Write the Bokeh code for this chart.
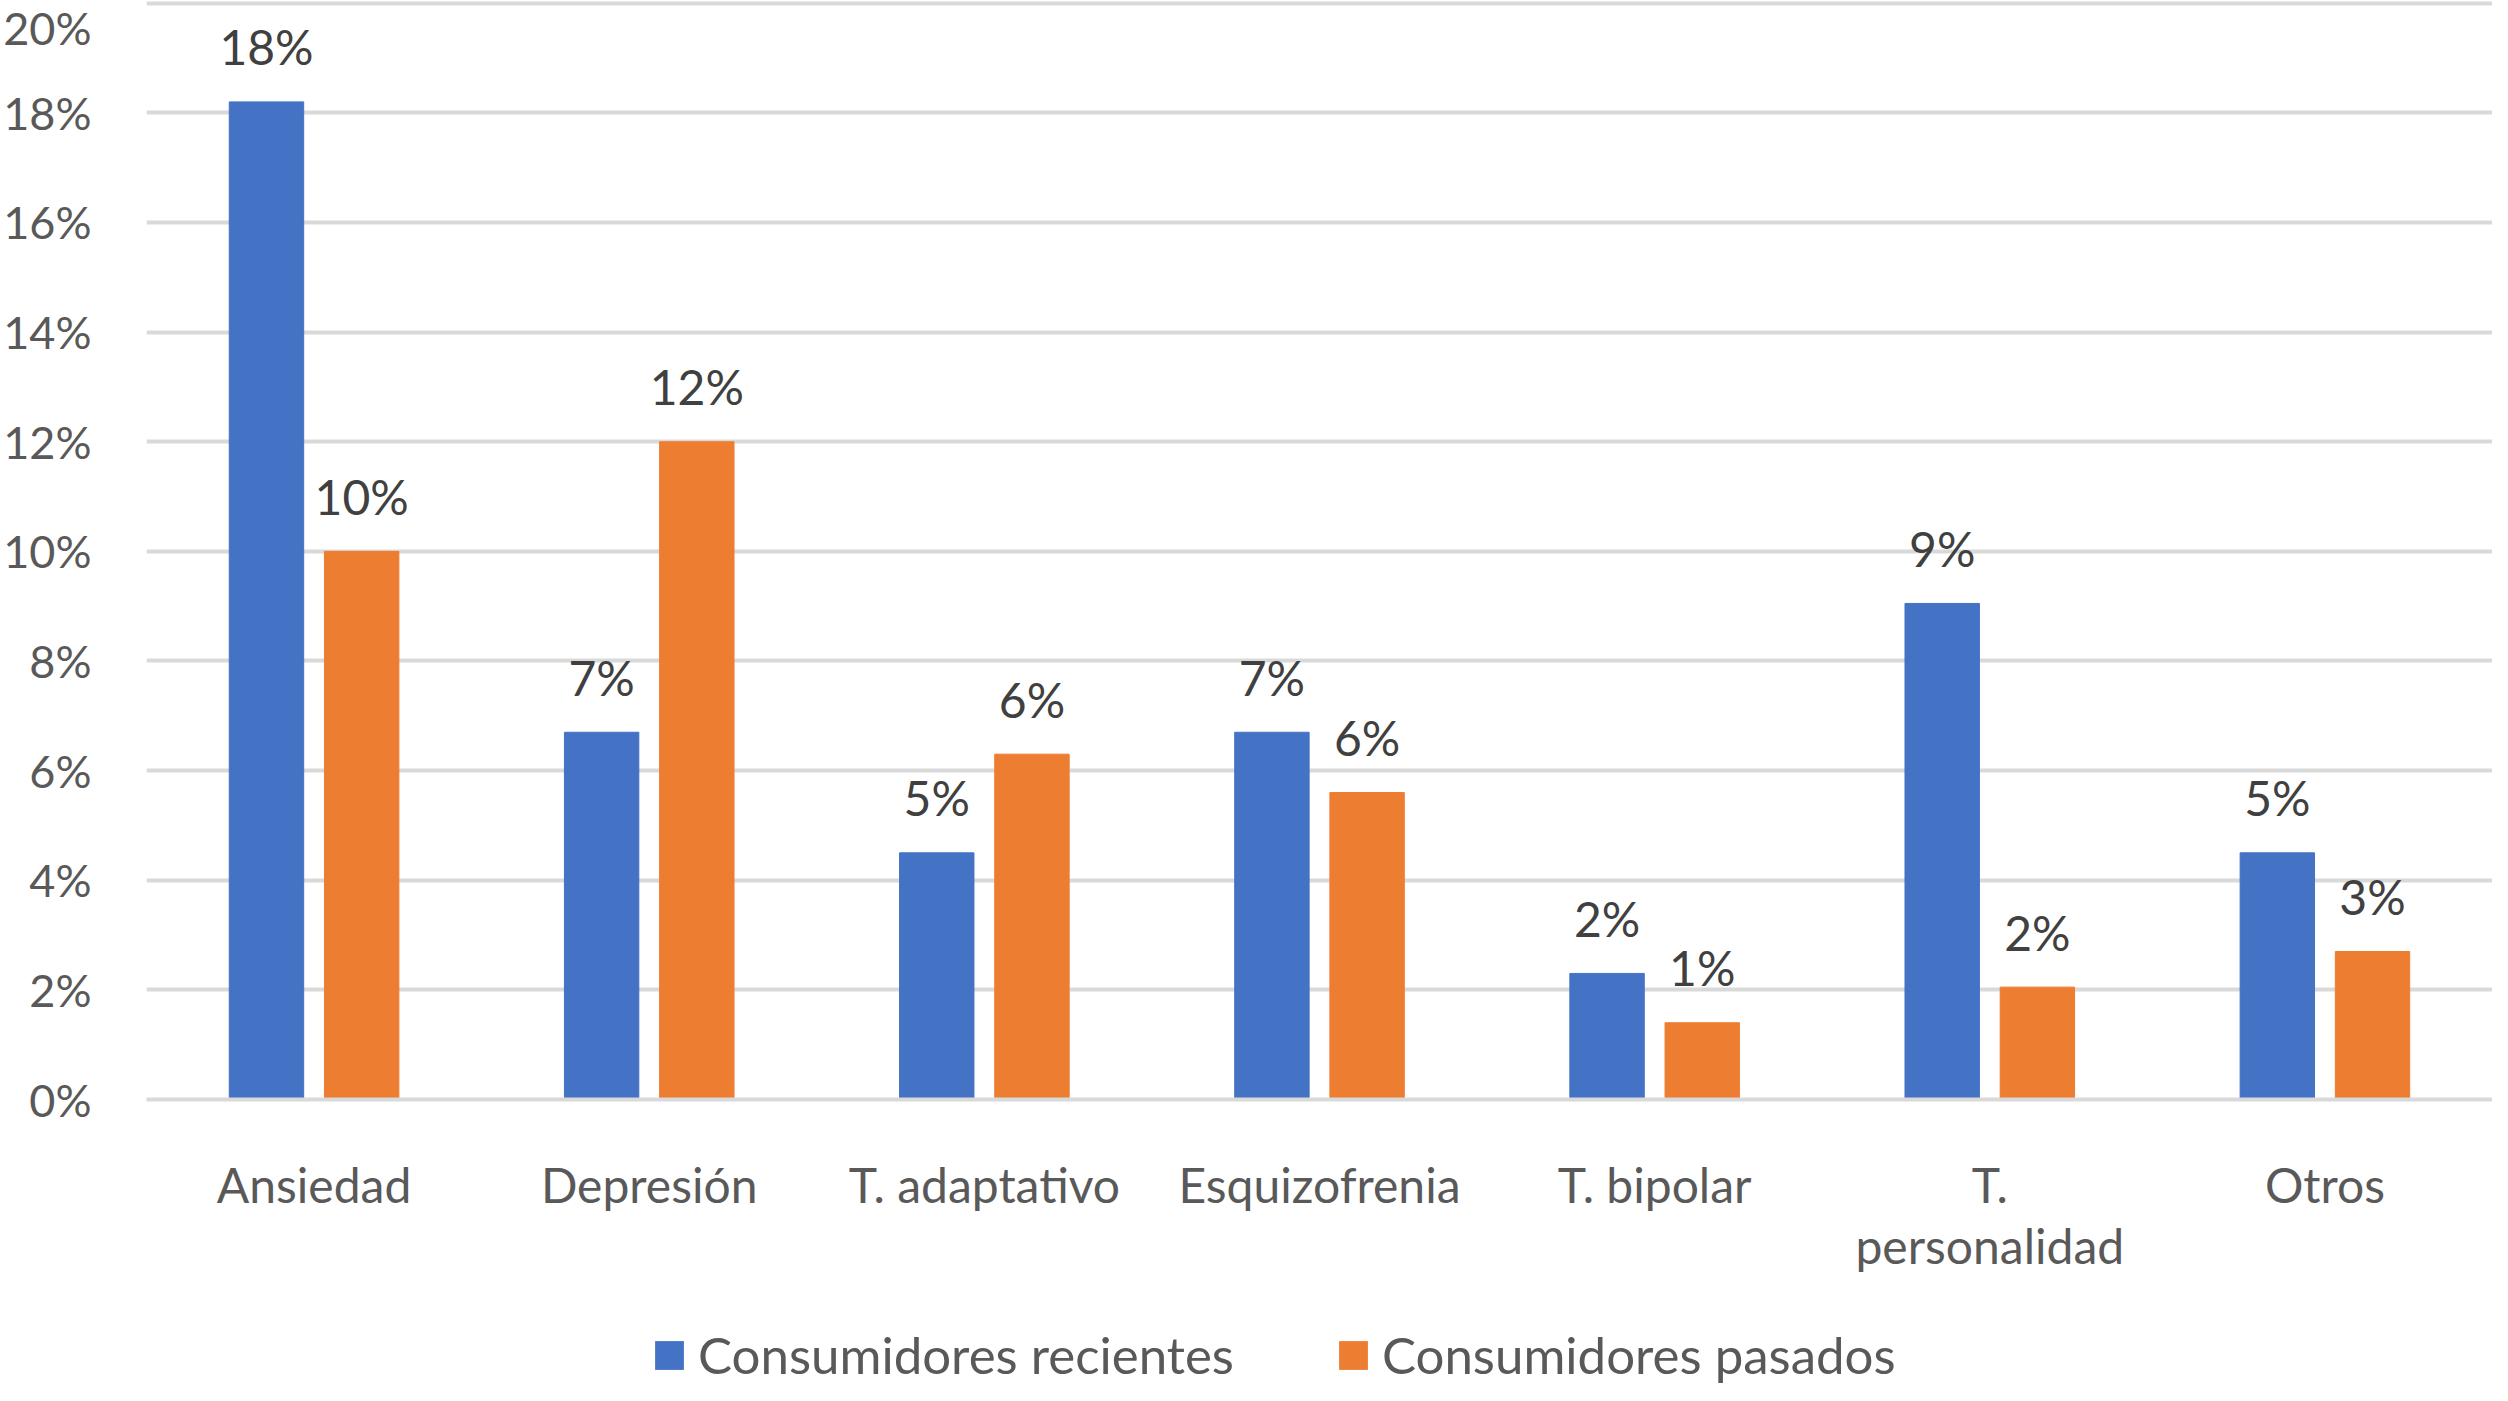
from bokeh.plotting import figure
from bokeh.layouts import column
from bokeh.models import ColumnDataSource, FactorRange, FixedTicker, Legend, LegendItem, Range1d
from bokeh.transform import dodge
from bokeh.core.properties import value
from bokeh.embed import file_html
from bokeh.resources import INLINE

# data (percent)
categories = ["Ansiedad", "Depresión", "T. adaptativo", "Esquizofrenia",
              "T. bipolar", "T.\npersonalidad", "Otros"]
recientes = [18.2, 6.7, 4.5, 6.7, 2.3, 9.05, 4.5]
pasados = [10.0, 12.0, 6.3, 5.6, 1.4, 2.05, 2.7]
recientes_labels = ["18%", "7%", "5%", "7%", "2%", "9%", "5%"]
pasados_labels = ["10%", "12%", "6%", "6%", "1%", "2%", "3%"]
grid_ticks = [0, 2, 4, 6, 8, 10, 12, 14, 16, 18, 20]
series_names = ["Consumidores recientes", "Consumidores pasados"]

BLUE = "#4472C4"
ORANGE = "#ED7D31"
FONT = "Lato"
W = 2492

src = ColumnDataSource(dict(cat=categories, rec=recientes, pas=pasados,
                            rec_lbl=recientes_labels, pas_lbl=pasados_labels))

p = figure(x_range=FactorRange(*categories, range_padding=0), y_range=(0, 20.05),
           width=W, height=1279, output_backend="svg", toolbar_location=None,
           min_border_left=139, min_border_right=0, min_border_top=0, min_border_bottom=180)
p.outline_line_color = None
p.background_fill_color = "white"
p.border_fill_color = "white"

p.vbar(x=dodge("cat", -0.142, range=p.x_range), top="rec", width=0.222,
       source=src, color=BLUE)
p.vbar(x=dodge("cat", 0.142, range=p.x_range), top="pas", width=0.222,
       source=src, color=ORANGE)

for off, col, lbl in [(-0.142, "rec", "rec_lbl"), (0.142, "pas", "pas_lbl")]:
    p.text(x=dodge("cat", off, range=p.x_range), y=col, text=lbl, source=src,
           y_offset=-55, text_align="center", text_baseline="alphabetic",
           text_font=value(FONT), text_font_size="48px", text_color="#404040")

# y axis: the top label sits a little below its gridline, as in the cropped original
label_ticks = grid_ticks[:-1] + [19.65]
p.yaxis.ticker = FixedTicker(ticks=label_ticks)
p.yaxis.major_label_overrides = {t: "%d%%" % round(t) for t in label_ticks}
p.ygrid.ticker = FixedTicker(ticks=grid_ticks)
p.yaxis.axis_line_color = None
p.yaxis.major_tick_line_color = None
p.yaxis.minor_tick_line_color = None
p.yaxis.major_label_standoff = 49
p.yaxis.major_label_text_font = FONT
p.yaxis.major_label_text_font_size = "45px"
p.yaxis.major_label_text_color = "#595959"

p.xaxis.axis_line_color = "#d9d9d9"
p.xaxis.axis_line_width = 4
p.xaxis.major_tick_line_color = None
p.xaxis.major_label_standoff = 50
p.xaxis.major_label_text_font = FONT
p.xaxis.major_label_text_font_size = "48px"
p.xaxis.major_label_text_color = "#595959"
p.xaxis.major_label_text_line_height = 1.08

p.xgrid.grid_line_color = None
p.ygrid.grid_line_color = "#d9d9d9"
p.ygrid.grid_line_width = 4

# legend strip under the chart; the key renderers are flat (zero-height) bars
leg = figure(width=W, height=106, output_backend="svg", toolbar_location=None,
             x_range=Range1d(0, 1), y_range=Range1d(0, 1), min_border=0)
leg.axis.visible = False
leg.grid.visible = False
leg.outline_line_color = None
leg.border_fill_color = "white"
key_src = ColumnDataSource(dict(x=[0.5], top=[0.0]))
k1 = leg.vbar(x="x", top="top", width=0.01, source=key_src,
              fill_color=BLUE, line_color=None)
k2 = leg.vbar(x="x", top="top", width=0.01, source=key_src,
              fill_color=ORANGE, line_color=None)

legend = Legend(items=[LegendItem(label=series_names[0], renderers=[k1]),
                       LegendItem(label=series_names[1], renderers=[k2])],
                orientation="horizontal", location=(505, 0),
                glyph_width=36, glyph_height=36, label_standoff=11, spacing=101,
                padding=0, margin=0, border_line_color=None, background_fill_alpha=0,
                label_text_font=FONT, label_text_font_size="51px",
                label_text_line_height=1.0, label_text_color="#595959")
leg.add_layout(legend, "center")

open("out.html", "w").write(file_html(column(p, leg, spacing=0), INLINE))
